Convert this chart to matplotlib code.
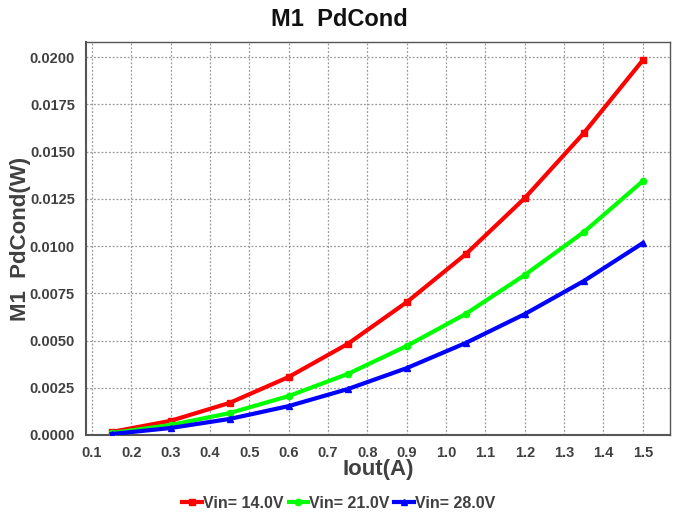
import matplotlib.pyplot as plt

# =========================
# DATOS
# =========================

iout = [0.15, 0.3, 0.45, 0.6, 0.75, 0.9, 1.05, 1.2, 1.35, 1.5]

pd_14 = [0.00016, 0.00075, 0.00170, 0.00307, 0.00482, 0.00703, 0.00957, 0.01254, 0.01598, 0.01984]
pd_21 = [0.00010, 0.00053, 0.00116, 0.00206, 0.00323, 0.00471, 0.00641, 0.00847, 0.01074, 0.01344]
pd_28 = [0.00005, 0.00037, 0.00085, 0.00153, 0.00243, 0.00354, 0.00487, 0.00640, 0.00815, 0.01016]

labels = ["Vin= 14.0V", "Vin= 21.0V", "Vin= 28.0V"]
colores = ["#ff0000", "#00ff00", "#0000ff"]
marcadores = ["s", "o", "^"]

xticks = [0.1, 0.2, 0.3, 0.4, 0.5, 0.6, 0.7, 0.8, 0.9, 1.0, 1.1, 1.2, 1.3, 1.4, 1.5]
yticks = [0.0, 0.0025, 0.005, 0.0075, 0.01, 0.0125, 0.015, 0.0175, 0.02]

# =========================
# GRAFICAR
# =========================

plt.rcParams['font.family'] = ['Liberation Sans', 'DejaVu Sans']
plt.rcParams['font.weight'] = 'bold'

fig = plt.figure(figsize=(6.78, 5.16), dpi=100)
ax = fig.add_axes([86 / 678, 1 - 435 / 516, 584 / 678, 393 / 516])

for serie, lab, col, mk in zip([pd_14, pd_21, pd_28], labels, colores, marcadores):
    ax.plot(iout, serie, color=col, linewidth=3, marker=mk, markersize=4.5,
            label=lab, zorder=3)

ax.set_xlim(0.085, 1.569)
ax.set_ylim(0, 0.0208)
ax.set_xticks(xticks)
ax.set_xticklabels([f"{v:.1f}" for v in xticks])
ax.set_yticks(yticks)
ax.set_yticklabels([f"{v:.4f}" for v in yticks])

ax.tick_params(length=0, pad=8, labelsize=10.5, labelcolor="#404040")
ax.grid(True, linestyle=(0, (1.5, 1.5)), color="#999999", linewidth=0.9)

for lado in ["left", "bottom"]:
    ax.spines[lado].set_color("#555555")
    ax.spines[lado].set_linewidth(1.5)
for lado in ["top", "right"]:
    ax.spines[lado].set_color("#555555")
    ax.spines[lado].set_linewidth(1.0)

fig.suptitle("M1  PdCond", x=0.5, y=1 - 20 / 516, va="center",
             fontsize=17, fontweight="bold", color="#111111")
ax.set_xlabel("Iout(A)", fontsize=16, fontweight="bold", color="#404040")
ax.xaxis.set_label_coords(0.5, -(470 - 435) / 393)
ax.xaxis.label.set_va("center")
ax.set_ylabel("M1  PdCond(W)", fontsize=16, fontweight="bold", color="#404040")
ax.yaxis.set_label_coords(-(86 - 20) / 584, 0.5)
ax.yaxis.label.set_va("center")

fig.legend(loc="center", bbox_to_anchor=(0.5, 1 - 503 / 516), ncol=3, frameon=False,
           fontsize=11.5, handlelength=1.2, handletextpad=0.1, columnspacing=0.3,
           labelcolor="#404040")

fig.savefig("out.png", dpi=100)
